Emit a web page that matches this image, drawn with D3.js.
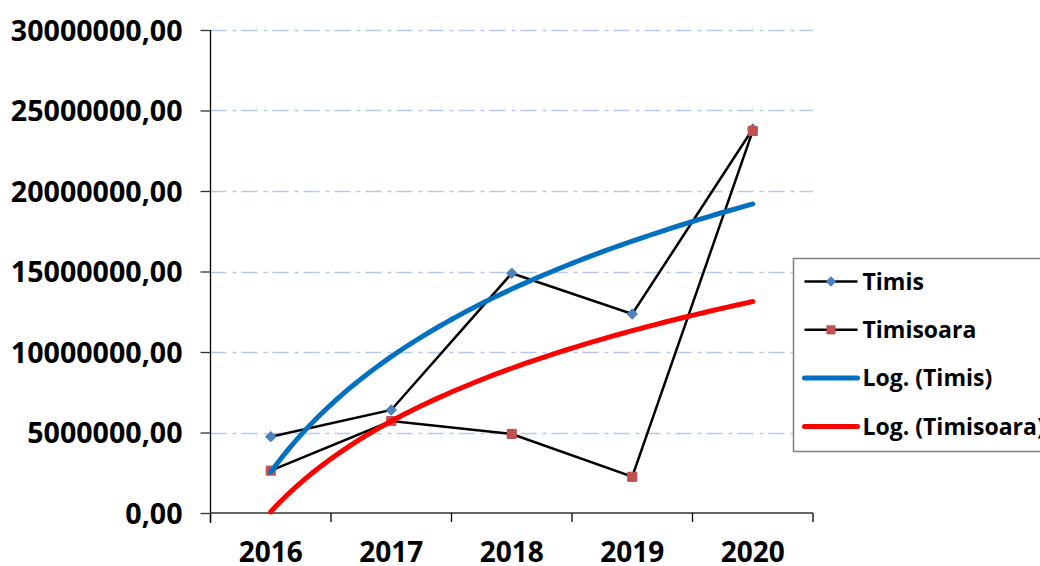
<!DOCTYPE html>
<html>
<head>
<meta charset="utf-8">
<script src="https://cdn.jsdelivr.net/npm/d3@7"></script>
<style>
  body { margin: 0; background: #fff; }
  text { font-family: "Open Sans", sans-serif; font-weight: bold; fill: #000; }
</style>
</head>
<body>
<div id="vis"></div>
<script>
// chart values
var years = ["2016", "2017", "2018", "2019", "2020"];
var timis = [4740000, 6400000, 14890000, 12360000, 23850000];
var timisoara = [2630000, 5710000, 4910000, 2250000, 23730000];
var yTicks = [0, 5000000, 10000000, 15000000, 20000000, 25000000, 30000000];
var legendLabels = ["Timis", "Timisoara", "Log. (Timis)", "Log. (Timisoara)"];

var width = 1040;
var height = 566;
var margin = { left: 210.5, right: 227, top: 30, bottom: 53 };

var svg = d3.select('#vis')
  .append('svg')
  .attr('width', width)
  .attr('height', height);

var x = d3.scaleBand()
  .domain(years)
  .range([margin.left, width - margin.right]);

var y = d3.scaleLinear()
  .domain([0, 30000000])
  .range([height - margin.bottom, margin.top]);

function cx(i) { return x(years[i]) + x.bandwidth() / 2; }

// least squares fit y = a + b*ln(k), k = 1..n (Excel log trendline)
function logFit(vals) {
  var n = vals.length;
  var lx = vals.map(function (d, i) { return Math.log(i + 1); });
  var mx = d3.mean(lx), my = d3.mean(vals);
  var sxy = 0, sxx = 0;
  for (var i = 0; i < n; i++) {
    sxy += (lx[i] - mx) * (vals[i] - my);
    sxx += (lx[i] - mx) * (lx[i] - mx);
  }
  var b = sxy / sxx;
  var a = my - b * mx;
  return function (k) { return a + b * Math.log(k); };
}

// gridlines
svg.append('g')
  .selectAll('line')
  .data(yTicks.slice(1))
  .enter().append('line')
  .attr('x1', margin.left)
  .attr('x2', width - margin.right)
  .attr('y1', function (d) { return Math.round(y(d)) + 0.5; })
  .attr('y2', function (d) { return Math.round(y(d)) + 0.5; })
  .attr('stroke', '#b4c9ec')
  .attr('stroke-width', 1.3)
  .attr('stroke-dasharray', '16,6,4,5');

// y axis
var yAxis = d3.axisLeft(y)
  .tickValues(yTicks)
  .tickSize(10)
  .tickPadding(18)
  .tickFormat(function (d) { return d3.format('.2f')(d).replace('.', ','); });

var gy = svg.append('g')
  .attr('transform', 'translate(' + margin.left + ',0)')
  .call(yAxis);
gy.select('.domain').attr('stroke', '#000').attr('stroke-width', 1.3)
  .attr('d', 'M0,' + y(30000000) + 'V' + (y(0) + 10));
gy.selectAll('.tick line').attr('stroke', '#333').attr('stroke-width', 1.3);
gy.selectAll('.tick text')
  .style('font-size', '28.6px')
  .attr('dy', '0.35em');

// x axis
var xAxis = d3.axisBottom(x).tickSize(0).tickPadding(29);
var gx = svg.append('g')
  .attr('transform', 'translate(0,' + y(0) + ')')
  .call(xAxis);
gx.select('.domain').attr('stroke', '#333').attr('stroke-width', 1.3)
  .attr('d', 'M' + margin.left + ',0H' + (width - margin.right));
gx.selectAll('.tick text').style('font-size', '28px');
// category separators
gx.selectAll('.sep')
  .data(years.concat(['end']))
  .enter().append('line')
  .attr('class', 'sep')
  .attr('x1', function (d, i) { return margin.left + i * x.bandwidth(); })
  .attr('x2', function (d, i) { return margin.left + i * x.bandwidth(); })
  .attr('y1', 0)
  .attr('y2', 9)
  .attr('stroke', '#000')
  .attr('stroke-width', 1.3);

var line = d3.line()
  .x(function (d, i) { return cx(i); })
  .y(function (d) { return y(d); });

var diamond = d3.symbol().type(d3.symbolDiamond2).size(70);
var square = d3.symbol().type(d3.symbolSquare2).size(105);

function drawSeries(vals, sym, color) {
  svg.append('path')
    .datum(vals)
    .attr('d', line)
    .attr('fill', 'none')
    .attr('stroke', '#000')
    .attr('stroke-width', 2.5);
  svg.append('g')
    .selectAll('path')
    .data(vals)
    .enter().append('path')
    .attr('d', sym)
    .attr('transform', function (d, i) { return 'translate(' + cx(i) + ',' + y(d) + ')'; })
    .attr('fill', color)
    .attr('stroke', color)
    .attr('stroke-width', 1);
}

drawSeries(timis, diamond, '#4f81bd');
drawSeries(timisoara, square, '#c0504d');

// log trendlines
function drawTrend(vals, color) {
  var f = logFit(vals);
  var pts = d3.range(1, vals.length + 0.001, 0.05);
  var tl = d3.line()
    .x(function (k) { return cx(0) + (k - 1) * x.bandwidth(); })
    .y(function (k) { return y(f(k)); });
  svg.append('path')
    .datum(pts)
    .attr('d', tl)
    .attr('fill', 'none')
    .attr('stroke', color)
    .attr('stroke-width', 5)
    .attr('stroke-linecap', 'round');
}

drawTrend(timis, '#0070c0');
drawTrend(timisoara, '#ff0000');

// legend
var legend = svg.append('g').attr('transform', 'translate(793.5,258.5)');
legend.append('rect')
  .attr('width', 260)
  .attr('height', 193)
  .attr('fill', '#fff')
  .attr('stroke', '#7f7f7f')
  .attr('stroke-width', 1.5);

var legendStyle = [
  { stroke: '#000', w: 2.5, sym: diamond, fill: '#4f81bd' },
  { stroke: '#000', w: 2.5, sym: square, fill: '#c0504d' },
  { stroke: '#0070c0', w: 5, sym: null },
  { stroke: '#ff0000', w: 5, sym: null }
];

var items = legend.selectAll('.item')
  .data(legendLabels)
  .enter().append('g')
  .attr('class', 'item')
  .attr('transform', function (d, i) { return 'translate(0,' + (23 + i * 48.3) + ')'; });

items.append('line')
  .attr('x1', 11)
  .attr('x2', 64)
  .attr('stroke', function (d, i) { return legendStyle[i].stroke; })
  .attr('stroke-width', function (d, i) { return legendStyle[i].w; })
  .attr('stroke-linecap', function (d, i) { return legendStyle[i].sym ? 'butt' : 'round'; });

items.filter(function (d, i) { return legendStyle[i].sym; })
  .append('path')
  .attr('d', function (d, i) { return legendStyle[i].sym(); })
  .attr('transform', 'translate(37.5,0)')
  .attr('fill', function (d, i) { return legendStyle[i].fill; });

items.append('text')
  .attr('x', 69)
  .attr('dy', '0.36em')
  .style('font-size', '23px')
  .text(function (d) { return d; });
</script>
</body>
</html>
